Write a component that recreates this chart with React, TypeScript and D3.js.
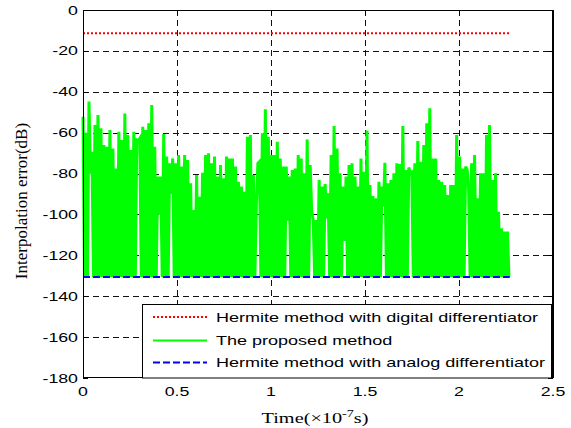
import React from "react";
import * as d3 from "d3";

// Interpolation error of three reconstruction methods (dB) versus time (×1e-7 s)
const xTicks = [0, 0.5, 1, 1.5, 2, 2.5];
const yTicks = [0, -20, -40, -60, -80, -100, -120, -140, -160, -180];

// Hermite method with digital differentiator: constant error level
const digitalLevel = -11.4;
// Hermite method with analog differentiator: constant error level
const analogLevel = -130.6;
const seriesEnd = 2.27;

// The proposed method: sample interval and the local maxima of each sample
const timeStep = 0.0159;
const proposedPeaks = [
  -52.2, -60.0, -44.8, -69.3, -56.3, -51.4, -57.9, -66.0, -66.9, -58.7, -67.7, -77.5, -59.5,
  -63.6, -50.6, -61.2, -68.5, -59.5, -63.6, -62.8, -57.1, -58.7, -55.4, -46.5, -66.9, -81.5,
  -81.5, -60.7, -71.7, -75.0, -72.6, -75.0, -70.9, -76.6, -70.9, -73.4, -84.8,
  -97.8, -80.7, -91.3, -79.6, -70.9, -70.1, -75.0, -71.7, -81.5, -75.8, -82.3, -71.7, -72.6,
  -72.6, -76.6, -84.0, -86.4, -88.9, -62.0, -61.2, -80.7, -94.6, -74.2, -60.3, -48.6, -62.0,
  -70.9, -70.9, -64.4, -72.6, -76.6, -76.6, -81.5, -78.3, -77.5, -70.9,
  -72.6, -79.9, -63.3, -75.8, -102.7, -102.7, -83.2, -86.4, -85.1, -89.7, -70.9, -56.7, -67.7,
  -79.9, -86.4, -81.5, -75.8, -75.0, -81.5, -86.4, -72.6, -79.1, -59.0, -85.6, -91.0, -92.1,
  -84.0, -86.4, -74.7, -84.8, -83.2, -79.9, -75.0, -75.3, -56.7, -78.3,
  -77.0, -79.4, -75.0, -64.1, -74.2, -66.0, -55.4, -48.1, -72.6, -72.6, -83.2, -84.0, -85.6,
  -90.5, -85.6, -85.6, -61.2, -71.7, -77.5, -76.6, -87.2, -75.0, -70.9, -92.1, -79.9, -79.9,
  -61.2, -56.3, -83.2, -79.9, -98.7, -106.8, -108.4, -108.4,
];
// Minima between samples sit on the noise floor, except these [sample index, dB]
const proposedFloor = -130.6;
const proposedRaisedMinima: [number, number][] = [
  [2, -80], [18, -64], [25, -100], [29, -90], [58, -75], [68, -103],
  [76, -98], [81, -102], [87, -113], [100, -96], [109, -80], [128, -78],
];

const legendLabels = [
  "Hermite method with digital differentiator",
  "The proposed method",
  "Hermite method with analog differentiator",
];

const W = 571;
const H = 428;
const left = 83;
const right = 553;
const top = 10;
const bottom = 378;
const SX = 1.42;
const sans = "'Liberation Sans', Arial, sans-serif";
const serif = "'Liberation Serif', 'Times New Roman', serif";

function SText(props: {
  x: number; y: number; size: number; anchor?: string; family?: string; sx?: number;
  children: React.ReactNode;
}) {
  const { x, y, size, anchor = "start", family = sans, sx = SX, children } = props;
  return (
    <text
      transform={`translate(${x},${y}) scale(${sx},1)`}
      fontSize={size}
      fontFamily={family}
      textAnchor={anchor}
      fill="#000"
    >
      {children}
    </text>
  );
}

export default function App() {
  const x = d3.scaleLinear().domain([0, 2.5]).range([left, right]);
  const y = d3.scaleLinear().domain([0, -180]).range([top, bottom]);

  const raised = new Map(proposedRaisedMinima);
  const pts: [number, number][] = [];
  proposedPeaks.forEach((p, i) => {
    const t = i * timeStep;
    pts.push([t, p]);
    pts.push([t + timeStep / 2, raised.has(i) ? (raised.get(i) as number) : proposedFloor]);
  });
  const line = d3.line<[number, number]>().x((d) => x(d[0])).y((d) => y(d[1]));

  const legX = 142.5;
  const legY = 304;
  const legRows = [317, 340.5, 362.5];
  const sampleX0 = 153;
  const sampleX1 = 207;
  const crisp = (v: number) => Math.round(v) + 0.5;

  return (
    <svg width={W} height={H} style={{ position: "absolute", left: 0, top: 0, background: "#fff" }}>
      <rect x={0} y={0} width={W} height={H} fill="#fff" />
      {/* grid */}
      <g stroke="#111" strokeWidth={1} strokeDasharray="6,4">
        {xTicks.slice(1, -1).map((t) => (
          <line key={"gx" + t} x1={crisp(x(t))} x2={crisp(x(t))} y1={top} y2={bottom} />
        ))}
        {yTicks.slice(1, -1).map((t) => (
          <line key={"gy" + t} x1={left} x2={right} y1={crisp(y(t))} y2={crisp(y(t))} />
        ))}
      </g>
      {/* inward ticks */}
      <g stroke="#000" strokeWidth={1}>
        {xTicks.map((t) => (
          <g key={"tx" + t}>
            <line x1={crisp(x(t))} x2={crisp(x(t))} y1={bottom} y2={bottom - 5} />
            <line x1={crisp(x(t))} x2={crisp(x(t))} y1={top} y2={top + 5} />
          </g>
        ))}
        {yTicks.map((t) => (
          <g key={"ty" + t}>
            <line x1={left} x2={left + 5} y1={crisp(y(t))} y2={crisp(y(t))} />
            <line x1={right} x2={right - 5} y1={crisp(y(t))} y2={crisp(y(t))} />
          </g>
        ))}
      </g>
      {/* series */}
      <path d={line(pts) || ""} fill="none" stroke="#00ff00" strokeWidth={3} strokeLinejoin="miter" />
      <line
        x1={x(0)} x2={x(seriesEnd)} y1={y(digitalLevel)} y2={y(digitalLevel)}
        stroke="#ff0000" strokeWidth={2} strokeDasharray="2,2"
      />
      <line
        x1={x(0)} x2={x(seriesEnd)} y1={y(analogLevel)} y2={y(analogLevel)}
        stroke="#0000ff" strokeWidth={2} strokeDasharray="7,3"
      />
      {/* axes box */}
      <rect x={left + 0.5} y={top + 0.5} width={right - left - 1} height={bottom - top - 1} fill="none" stroke="#000" strokeWidth={1} />
      <line x1={right} x2={right} y1={top} y2={bottom} stroke="#000" strokeWidth={2} />
      {/* tick labels */}
      {xTicks.map((t) => (
        <SText key={"lx" + t} x={x(t)} y={396} size={12.5} anchor="middle">
          {String(t)}
        </SText>
      ))}
      {yTicks.map((t) => (
        <SText key={"ly" + t} x={78} y={y(t) + 4.5} size={12.5} anchor="end">
          {String(t)}
        </SText>
      ))}
      {/* axis titles */}
      <SText x={315} y={423} size={14.5} anchor="middle" family={serif} sx={1.4}>
        Time(×10<tspan dy={-6} fontSize={10}>-7</tspan>
        <tspan dy={6}>s)</tspan>
      </SText>
      <text
        transform={`translate(27,201) rotate(-90)`}
        fontSize={17}
        fontFamily={serif}
        textAnchor="middle"
        fill="#000"
      >
        Interpolation error(dB)
      </text>
      {/* legend */}
      <rect x={legX} y={legY + 0.5} width={right - 1.5 - legX} height={bottom - legY - 0.5} fill="#fff" stroke="#000" strokeWidth={1} />
      <line x1={sampleX0} x2={sampleX1} y1={legRows[0]} y2={legRows[0]} stroke="#ff0000" strokeWidth={2} strokeDasharray="2,2" />
      <line x1={sampleX0} x2={sampleX1} y1={legRows[1]} y2={legRows[1]} stroke="#00ff00" strokeWidth={2} />
      <line x1={sampleX0} x2={sampleX1} y1={legRows[2]} y2={legRows[2]} stroke="#0000ff" strokeWidth={2} strokeDasharray="7,3" />
      {legendLabels.map((s, i) => (
        <SText key={s} x={216} y={legRows[i] + 4.5} size={12.7}>
          {s}
        </SText>
      ))}
    </svg>
  );
}
